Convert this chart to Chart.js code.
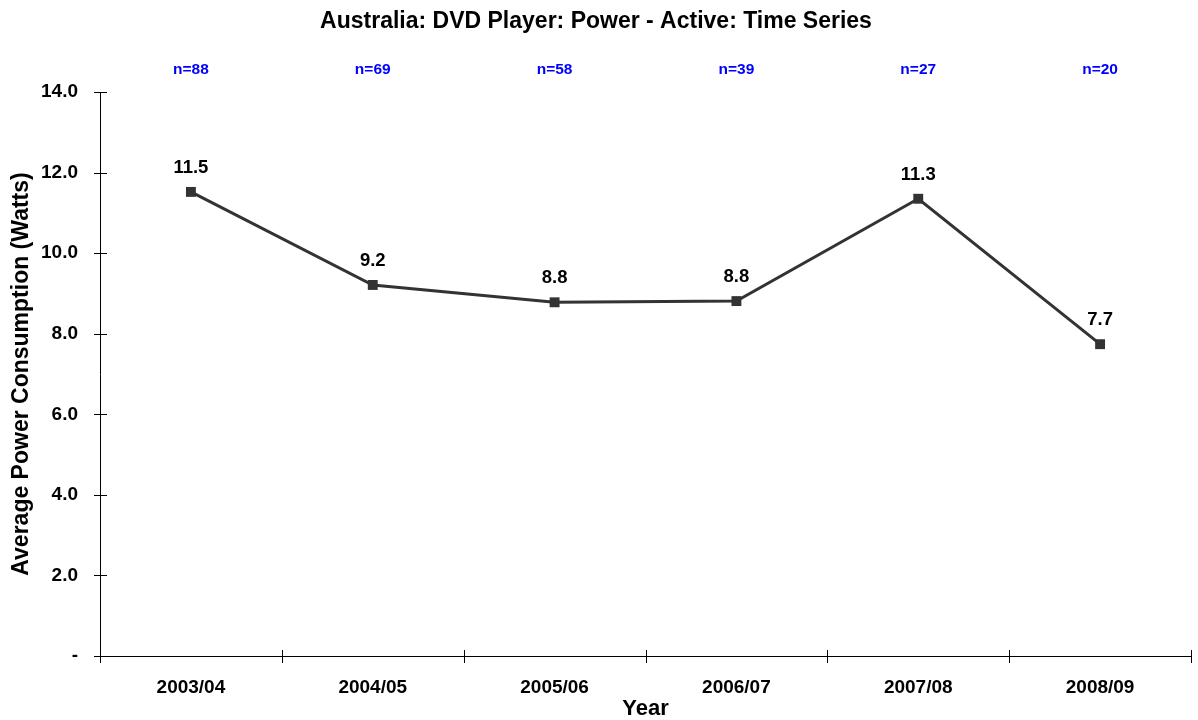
<!DOCTYPE html>
<html>
<head>
<meta charset="utf-8">
<title>Australia: DVD Player: Power - Active: Time Series</title>
<script src="https://cdn.jsdelivr.net/npm/chart.js@4/dist/chart.umd.min.js"></script>
<style>
  html, body { margin: 0; padding: 0; background: #fff; }
  canvas { display: block; }
</style>
</head>
<body>
<canvas id="chart" width="1198" height="720"></canvas>
<script>
const years = ["2003/04", "2004/05", "2005/06", "2006/07", "2007/08", "2008/09"];
const powerWatts = [11.52, 9.21, 8.78, 8.81, 11.35, 7.74];
const sampleSizes = [88, 69, 58, 39, 27, 20];
const yTicks = [0, 2, 4, 6, 8, 10, 12, 14];

const FONT = "'Liberation Sans', Arial, sans-serif";
const LINE_COLOR = "#333333";

// draws the crossing tick marks, the value labels and the n= row
const annotations = {
  id: "annotations",
  afterDraw(chart) {
    const ctx = chart.ctx;
    const x = chart.scales.x;
    const y = chart.scales.y;
    const area = chart.chartArea;

    ctx.save();
    ctx.strokeStyle = "#000";
    ctx.lineWidth = 1;
    ctx.beginPath();
    yTicks.forEach((v) => {
      const py = Math.round(y.getPixelForValue(v)) + 0.5;
      ctx.moveTo(area.left - 6, py);
      ctx.lineTo(area.left + 7, py);
    });
    for (let i = 0; i <= years.length; i++) {
      const px = Math.round(x.getPixelForValue(i - 0.5)) + 0.5;
      ctx.moveTo(px, area.bottom - 6);
      ctx.lineTo(px, area.bottom + 7);
    }
    ctx.stroke();

    ctx.textAlign = "center";
    ctx.textBaseline = "middle";
    const meta = chart.getDatasetMeta(0);
    ctx.fillStyle = "#000";
    ctx.font = "bold 18.5px " + FONT;
    meta.data.forEach((pt, i) => {
      ctx.fillText(powerWatts[i].toFixed(1), pt.x, pt.y - 24);
    });

    ctx.fillStyle = "#0000ff";
    ctx.font = "bold 15.5px " + FONT;
    sampleSizes.forEach((n, i) => {
      ctx.fillText("n=" + n, x.getPixelForValue(i), 70);
    });
    ctx.restore();
  },
};

new Chart(document.getElementById("chart"), {
  type: "line",
  data: {
    labels: years,
    datasets: [
      {
        data: powerWatts,
        borderColor: LINE_COLOR,
        backgroundColor: LINE_COLOR,
        borderWidth: 3,
        pointStyle: "rect",
        pointRadius: 7,
        pointBorderWidth: 0,
        tension: 0,
      },
    ],
  },
  options: {
    responsive: false,
    animation: false,
    events: [],
    layout: { padding: { top: 0, right: 6, left: 0, bottom: 0 } },
    plugins: {
      legend: { display: false },
      tooltip: { enabled: false },
      title: {
        display: true,
        text: "Australia: DVD Player: Power - Active: Time Series",
        color: "#000",
        font: { family: FONT, size: 23, weight: "bold", lineHeight: 1.2 },
        padding: { top: 8, bottom: 56.4 },
      },
    },
    scales: {
      x: {
        offset: true,
        grid: { display: false, drawTicks: false },
        border: { display: true, color: "#000", width: 1 },
        ticks: {
          color: "#000",
          font: { family: FONT, size: 19, weight: "bold" },
          padding: 20,
          maxRotation: 0,
        },
        title: {
          display: true,
          text: "Year",
          color: "#000",
          font: { family: FONT, size: 22, weight: "bold", lineHeight: 1 },
          padding: { top: 0, bottom: 0 },
        },
        afterFit(scale) {
          scale.height = 64;
        },
      },
      y: {
        min: 0,
        max: 14,
        grid: { display: false, drawTicks: false },
        border: { display: true, color: "#000", width: 1 },
        ticks: {
          stepSize: 2,
          color: "#000",
          font: { family: FONT, size: 19, weight: "bold" },
          padding: 22,
          callback: (v) => (v === 0 ? "-" : v.toFixed(1)),
        },
        title: {
          display: true,
          text: "Average Power Consumption (Watts)",
          color: "#000",
          font: { family: FONT, size: 23, weight: "bold", lineHeight: 1 },
          padding: { top: 10, bottom: 0 },
        },
        afterFit(scale) {
          scale.width = 100;
        },
      },
    },
  },
  plugins: [annotations],
});
</script>
</body>
</html>
